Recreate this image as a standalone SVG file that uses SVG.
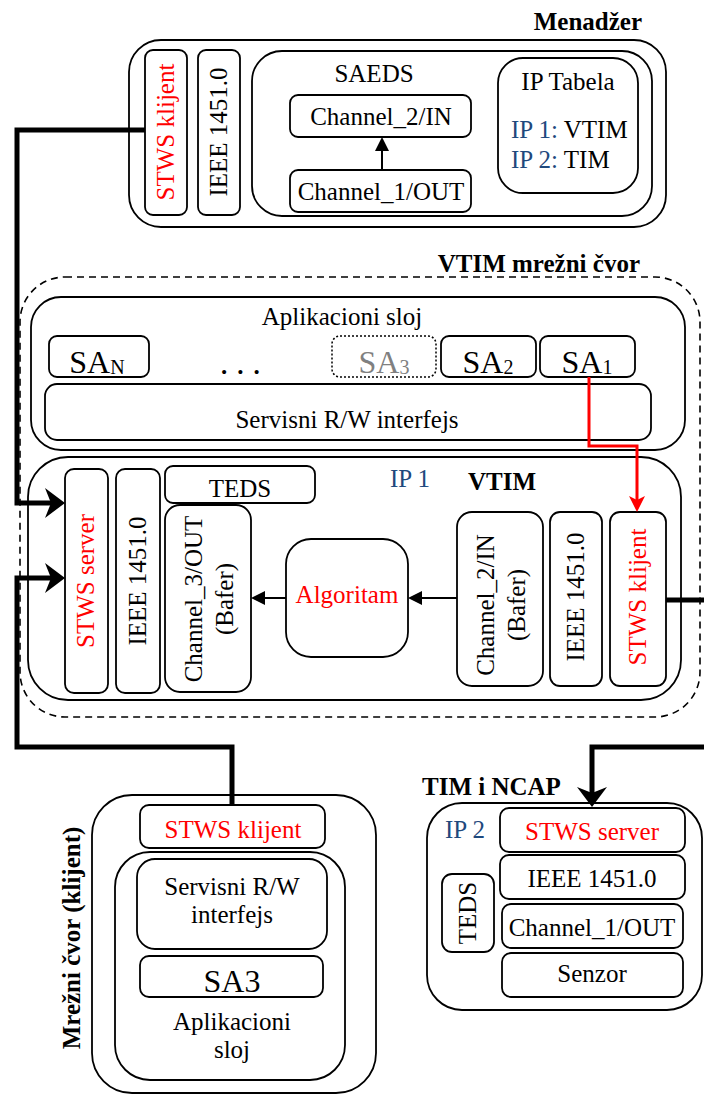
<svg xmlns="http://www.w3.org/2000/svg" width="704" height="1095" viewBox="0 0 704 1095">
<style>
.b{fill:#fff;stroke:#000;stroke-width:1.8}
.d{fill:#fff;stroke:#000;stroke-width:1.6;stroke-dasharray:7,5}
.dot{fill:#fff;stroke:#000;stroke-width:1.5;stroke-dasharray:2,2}
text{font-family:"Liberation Serif","Times New Roman",serif;font-size:25px;fill:#000}
.c{text-anchor:middle}
.bold{font-weight:bold}
.red{fill:#f00}
.blue{fill:#1F497D}
.gray{fill:#808080}
.sa{font-size:32px}
.thick{fill:none;stroke:#000;stroke-width:5;stroke-linejoin:miter}
.thin{fill:none;stroke:#000;stroke-width:2}
.redl{fill:none;stroke:#f00;stroke-width:3}
</style>
<defs>
<marker id="big" markerUnits="userSpaceOnUse" markerWidth="20" markerHeight="30" viewBox="0 0 20 30" refX="8" refY="15" orient="auto"><path d="M0,0 L20,15 L0,30 L6,15 Z" fill="#000"/></marker>
<marker id="sm" markerUnits="userSpaceOnUse" markerWidth="14" markerHeight="14" viewBox="0 0 14 14" refX="8" refY="7" orient="auto"><path d="M0,0 L14,7 L0,14 Z" fill="#000"/></marker>
<marker id="rd" markerUnits="userSpaceOnUse" markerWidth="16" markerHeight="16" viewBox="0 0 16 16" refX="6" refY="8" orient="auto"><path d="M0,0 L16,8 L0,16 L4,8 Z" fill="#f00"/></marker>
</defs>

<g id="menadzer">
<text class="bold" x="642" y="30" text-anchor="end">Menadžer</text>
<rect class="b" x="129" y="40" width="537" height="187" rx="32"/>
<rect class="b" x="145" y="50" width="42" height="165" rx="8"/>
<text class="c red" transform="translate(166,132) rotate(-90)" y="8">STWS klijent</text>
<rect class="b" x="198" y="50" width="42" height="165" rx="8"/>
<text class="c" transform="translate(219,132) rotate(-90)" y="8">IEEE 1451.0</text>
<rect class="b" x="252" y="51" width="400" height="165" rx="30"/>
<text class="c" x="374" y="82">SAEDS</text>
<rect class="b" x="290" y="95" width="181" height="42" rx="8"/>
<text class="c" x="381" y="125">Channel_2/IN</text>
<rect class="b" x="290" y="170" width="181" height="42" rx="8"/>
<text class="c" x="381" y="200">Channel_1/OUT</text>
<rect class="b" x="498" y="58" width="140" height="135" rx="25"/>
<text class="c" x="568" y="90">IP Tabela</text>
<text x="511" y="138"><tspan class="blue">IP 1:</tspan> VTIM</text>
<text x="511" y="168"><tspan class="blue">IP 2:</tspan> TIM</text>
</g>

<g id="vtim-cvor">
<text class="bold" x="640" y="272" text-anchor="end">VTIM mrežni čvor</text>
<rect class="d" x="20" y="277" width="680" height="440" rx="45"/>
</g>

<g id="aplikacioni-sloj">
<rect class="b" x="31" y="297" width="654" height="153" rx="30"/>
<text class="c" x="342" y="325">Aplikacioni sloj</text>
<rect class="b" x="49" y="336" width="100" height="41" rx="8"/>
<text class="sa" x="97" y="373" text-anchor="middle">SA<tspan font-size="20" dy="1">N</tspan></text>
<text class="bold" x="221" y="374" font-size="32" letter-spacing="10">...</text>
<rect class="dot" x="332" y="336" width="104" height="41" rx="8"/>
<text class="sa gray" x="384" y="373" text-anchor="middle">SA<tspan font-size="20" dy="1">3</tspan></text>
<rect class="b" x="441" y="336" width="95" height="41" rx="8"/>
<text class="sa" x="488" y="373" text-anchor="middle">SA<tspan font-size="20" dy="1">2</tspan></text>
<rect class="b" x="540" y="336" width="95" height="41" rx="8"/>
<text class="sa" x="587" y="373" text-anchor="middle">SA<tspan font-size="20" dy="1">1</tspan></text>
<rect class="b" x="45" y="384" width="606" height="56" rx="12"/>
<text class="c" x="347" y="428">Servisni R/W interfejs</text>
</g>

<g id="vtim">
<rect class="b" x="28" y="457" width="653" height="243" rx="40"/>
<text class="blue" x="390" y="487">IP 1</text>
<text class="bold" x="468" y="490">VTIM</text>
<rect class="b" x="65" y="469" width="43" height="224" rx="9"/>
<text class="c red" transform="translate(86,581) rotate(-90)" y="8">STWS server</text>
<rect class="b" x="116" y="469" width="44" height="224" rx="9"/>
<text class="c" transform="translate(138,581) rotate(-90)" y="8">IEEE 1451.0</text>
<rect class="b" x="165" y="466" width="150" height="37" rx="8"/>
<text class="c" x="240" y="497">TEDS</text>
<rect class="b" x="165" y="505" width="86" height="187" rx="15"/>
<text class="c" transform="translate(208,599) rotate(-90)"><tspan x="0" y="-6">Channel_3/OUT</tspan><tspan x="0" y="25">(Bafer)</tspan></text>
<rect class="b" x="286" y="539" width="122" height="118" rx="25"/>
<text class="c red" x="347" y="603">Algoritam</text>
<rect class="b" x="457" y="512" width="86" height="174" rx="15"/>
<text class="c" transform="translate(500,605) rotate(-90)"><tspan x="0" y="-6">Channel_2/IN</tspan><tspan x="0" y="25">(Bafer)</tspan></text>
<rect class="b" x="550" y="512" width="52" height="174" rx="10"/>
<text class="c" transform="translate(576,597) rotate(-90)" y="8">IEEE 1451.0</text>
<rect class="b" x="610" y="512" width="56" height="174" rx="10"/>
<text class="c red" transform="translate(638,597) rotate(-90)" y="8">STWS klijent</text>
</g>

<g id="klijent-cvor">
<rect class="b" x="92" y="795" width="284" height="298" rx="40"/>
<text class="c bold" transform="translate(72,938) rotate(-90)" y="8" font-size="24">Mrežni čvor (klijent)</text>
<rect class="b" x="140" y="805" width="185" height="43" rx="9"/>
<text class="c red" x="233" y="838">STWS klijent</text>
<rect class="b" x="115" y="852" width="230" height="228" rx="35"/>
<rect class="b" x="137" y="859" width="190" height="90" rx="18"/>
<text class="c" x="232" y="895">Servisni R/W</text>
<text class="c" x="232" y="923">interfejs</text>
<rect class="b" x="140" y="956" width="183" height="41" rx="9"/>
<text class="c sa" x="232" y="992">SA3</text>
<text class="c" x="232" y="1030">Aplikacioni</text>
<text class="c" x="232" y="1058">sloj</text>
</g>

<g id="tim-ncap">
<text class="bold" x="422" y="795">TIM i NCAP</text>
<rect class="b" x="427" y="803" width="275" height="207" rx="35"/>
<text class="blue" x="445" y="838">IP 2</text>
<rect class="b" x="500" y="808" width="185" height="44" rx="9"/>
<text class="c red" x="592" y="840">STWS server</text>
<rect class="b" x="500" y="855" width="185" height="44" rx="9"/>
<text class="c" x="592" y="887">IEEE 1451.0</text>
<rect class="b" x="502" y="904" width="181" height="44" rx="9"/>
<text class="c" x="592" y="936">Channel_1/OUT</text>
<rect class="b" x="502" y="953" width="181" height="44" rx="9"/>
<text class="c" x="592" y="982">Senzor</text>
<rect class="b" x="442" y="874" width="52" height="78" rx="10"/>
<text class="c" transform="translate(468,913) rotate(-90)" y="8">TEDS</text>
</g>

<g id="connectors">
<path class="thick" d="M145,130 H17 V503 H53" marker-end="url(#big)"/>
<path class="thick" d="M232,805 V747 H17 V578 H53" marker-end="url(#big)"/>
<path class="thick" d="M666,600 H712 V747 H592 V795" marker-end="url(#big)"/>
<path class="redl" d="M589,377 V446 H637 V502" marker-end="url(#rd)"/>
<path class="thin" d="M382,170 V143" marker-end="url(#sm)"/>
<path class="thin" d="M457,598 H414" marker-end="url(#sm)"/>
<path class="thin" d="M286,598 H257" marker-end="url(#sm)"/>
</g>
</svg>
